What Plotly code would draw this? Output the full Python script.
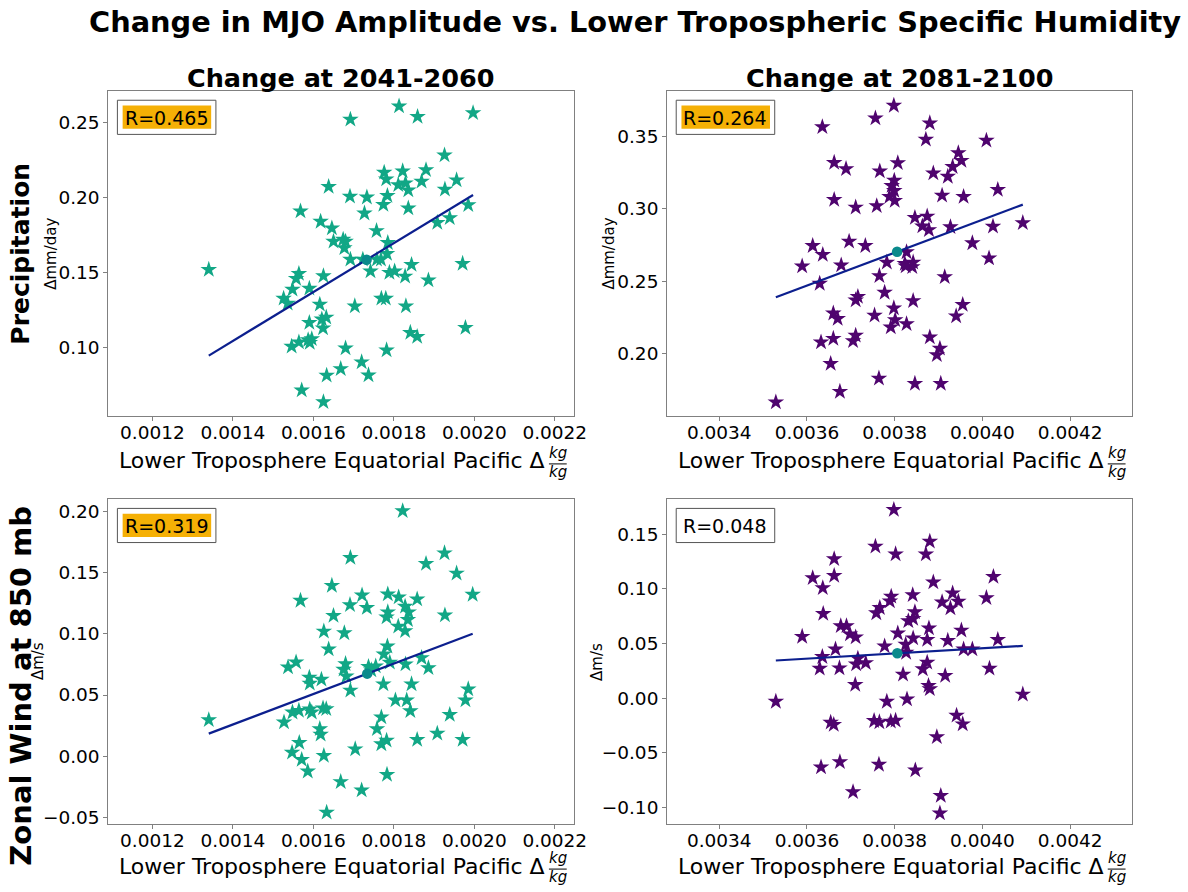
import numpy as np
import plotly.graph_objects as go

W, H = 1188, 892

# ---------------- data ----------------
# Precipitation, change at 2041-2060
x_p1 = [0.00134, 0.001813, 0.001692, 0.001859, 0.001997, 0.001926, 0.00188, 0.001776, 0.001822, 0.001781,
        0.001829, 0.001811, 0.001836, 0.001869, 0.001956, 0.001927, 0.001638, 0.001691, 0.001733, 0.001784,
        0.001774, 0.001836, 0.001985, 0.001568, 0.001727, 0.001908, 0.001939, 0.001618, 0.001646, 0.001757,
        0.00165, 0.001674, 0.00168, 0.001677, 0.001785, 0.001692, 0.001723, 0.001758, 0.001768, 0.001783,
        0.001742, 0.001789, 0.001802, 0.001844, 0.001828, 0.001886, 0.001971, 0.001564, 0.001557, 0.001625,
        0.001548, 0.00159, 0.001526, 0.001536, 0.001616, 0.001703, 0.001769, 0.00178, 0.00183, 0.00159,
        0.001621, 0.001632, 0.001624, 0.001546, 0.001564, 0.001587, 0.001596, 0.001591, 0.00168, 0.001841,
        0.001858, 0.001978, 0.001782, 0.00172, 0.001668, 0.001633, 0.001737, 0.001571, 0.001625]
y_p1 = [0.1519, 0.2611, 0.2522, 0.254, 0.2566, 0.2283, 0.2185, 0.2168, 0.2177, 0.2123,
        0.2097, 0.2084, 0.205, 0.2108, 0.2117, 0.2055, 0.2073, 0.2008, 0.2002, 0.2013,
        0.1953, 0.1929, 0.1951, 0.1909, 0.1895, 0.1833, 0.1864, 0.184, 0.1796, 0.1778,
        0.1707, 0.172, 0.1707, 0.1663, 0.1698, 0.1587, 0.1587, 0.1587, 0.1587, 0.1625,
        0.1508, 0.1499, 0.1508, 0.1552, 0.1474, 0.1448, 0.1559, 0.1492, 0.1459, 0.1477,
        0.1386, 0.1393, 0.1326, 0.1293, 0.1286, 0.1275, 0.1326, 0.1326, 0.1275, 0.1164,
        0.1187, 0.12, 0.1127, 0.1005, 0.1034, 0.1049, 0.1056, 0.1031, 0.0994, 0.1098,
        0.1071, 0.1131, 0.0981, 0.0901, 0.0856, 0.0812, 0.0814, 0.0713, 0.0635]

# Precipitation, change at 2081-2100
x_p2 = [0.003798, 0.003756, 0.003635, 0.00388, 0.003871, 0.004009, 0.003945, 0.003952, 0.003662, 0.003807,
        0.003689, 0.003766, 0.003888, 0.003932, 0.003921, 0.003799, 0.003793, 0.003799, 0.003788, 0.0038,
        0.004035, 0.003908, 0.003957, 0.003662, 0.003711, 0.003759, 0.003846, 0.003874, 0.003863, 0.003878,
        0.003927, 0.004024, 0.004092, 0.003613, 0.003696, 0.003733, 0.003636, 0.003977, 0.003589, 0.003678,
        0.003782, 0.003827, 0.003823, 0.003842, 0.00384, 0.003825, 0.004015, 0.003765, 0.003914, 0.003629,
        0.003711, 0.003716, 0.003777, 0.003842, 0.003955, 0.00366, 0.00367, 0.003754, 0.003798, 0.003801,
        0.003791, 0.003827, 0.00394, 0.003632, 0.00366, 0.003705, 0.003711, 0.00388, 0.003903, 0.003896,
        0.003654, 0.003764, 0.003846, 0.003905, 0.003675, 0.003529]
y_p2 = [0.371, 0.3623, 0.3562, 0.3589, 0.3477, 0.347, 0.3384, 0.3331, 0.3317, 0.3315,
        0.3274, 0.3258, 0.3244, 0.3288, 0.3221, 0.3194, 0.3158, 0.3123, 0.3082, 0.3055,
        0.313, 0.3091, 0.3082, 0.3062, 0.3009, 0.3018, 0.2938, 0.2947, 0.2879, 0.2854,
        0.2874, 0.2877, 0.2902, 0.2744, 0.2774, 0.2744, 0.2683, 0.2763, 0.2603, 0.261,
        0.263, 0.2701, 0.2621, 0.263, 0.2598, 0.2603, 0.2658, 0.2537, 0.253, 0.2484,
        0.237, 0.2393, 0.2422, 0.2365, 0.2338, 0.2279, 0.2242, 0.2265, 0.2315, 0.2233,
        0.2183, 0.2206, 0.226, 0.208, 0.2105, 0.2089, 0.2126, 0.2114, 0.2037, 0.1993,
        0.1932, 0.1831, 0.1795, 0.1795, 0.174, 0.1667]

# Zonal wind 850 mb, change at 2041-2060
x_u1 = [0.00134, 0.001822, 0.001926, 0.001692, 0.00188, 0.001956, 0.001646, 0.001721, 0.001785, 0.001996,
        0.001812, 0.001858, 0.001568, 0.001691, 0.001733, 0.001828, 0.001785, 0.001837, 0.001782, 0.00165,
        0.001927, 0.001835, 0.001811, 0.001828, 0.001626, 0.001677, 0.001638, 0.001784, 0.001775, 0.00179,
        0.001869, 0.001886, 0.001829, 0.001537, 0.001557, 0.00168, 0.001675, 0.001682, 0.001737, 0.001755,
        0.001744, 0.00159, 0.001591, 0.00162, 0.001692, 0.001774, 0.001844, 0.001985, 0.001978, 0.001804,
        0.001832, 0.001841, 0.001548, 0.001564, 0.001591, 0.001596, 0.001624, 0.001632, 0.001769, 0.001939,
        0.001527, 0.001616, 0.001618, 0.001758, 0.001908, 0.001858, 0.001971, 0.001769, 0.001782, 0.001565,
        0.001704, 0.001547, 0.001626, 0.001571, 0.001586, 0.001783, 0.001668, 0.00172, 0.001633]
y_u1 = [0.0297, 0.2, 0.1657, 0.1619, 0.157, 0.1492, 0.1392, 0.1313, 0.1322, 0.1319,
        0.1297, 0.1281, 0.127, 0.1235, 0.1211, 0.1222, 0.1176, 0.1176, 0.1135, 0.1146,
        0.1151, 0.1113, 0.1059, 0.1022, 0.1019, 0.1005, 0.0873, 0.0897, 0.0832, 0.0765,
        0.0803, 0.0721, 0.0751, 0.0727, 0.0767, 0.0754, 0.0708, 0.0654, 0.073, 0.0735,
        0.0703, 0.0643, 0.0594, 0.0627, 0.0538, 0.0589, 0.0589, 0.0548, 0.0457, 0.0457,
        0.0457, 0.037, 0.0359, 0.0373, 0.0384, 0.0359, 0.0392, 0.0386, 0.0319, 0.034,
        0.0278, 0.0224, 0.0178, 0.0224, 0.0186, 0.0135, 0.0135, 0.01, 0.013, 0.0111,
        0.0059, 0.0032, 0.0005, -0.0027, -0.0122, -0.0149, -0.0208, -0.0276, -0.0457]

# Zonal wind 850 mb, change at 2081-2100
x_u2 = [0.003798, 0.00388, 0.003756, 0.003802, 0.003871, 0.003662, 0.003662, 0.004025, 0.003613, 0.003636,
        0.003888, 0.003932, 0.003841, 0.003792, 0.003789, 0.004009, 0.003908, 0.003945, 0.003927, 0.003766,
        0.003758, 0.003637, 0.003846, 0.003831, 0.003842, 0.003677, 0.00369, 0.003698, 0.003711, 0.003589,
        0.003807, 0.003878, 0.003952, 0.003842, 0.003874, 0.003921, 0.004035, 0.003665, 0.003777, 0.003825,
        0.003826, 0.003957, 0.003977, 0.003635, 0.003716, 0.003712, 0.003734, 0.003874, 0.003629, 0.003674,
        0.003864, 0.004016, 0.003819, 0.003915, 0.00371, 0.003877, 0.00388, 0.003529, 0.003782, 0.003828,
        0.004092, 0.003654, 0.003661, 0.003753, 0.003765, 0.003791, 0.003802, 0.003941, 0.003955, 0.003896,
        0.003632, 0.003675, 0.003764, 0.003847, 0.003705, 0.003905, 0.003903]
y_u2 = [0.1724, 0.1433, 0.1388, 0.1318, 0.1318, 0.1273, 0.1121, 0.1112, 0.11, 0.1009,
        0.1061, 0.0961, 0.0945, 0.093, 0.0888, 0.0918, 0.0879, 0.0885, 0.0824, 0.0827,
        0.0779, 0.0773, 0.0788, 0.0706, 0.0727, 0.0661, 0.0661, 0.0585, 0.0558, 0.0564,
        0.0594, 0.064, 0.0621, 0.0549, 0.0536, 0.0527, 0.0536, 0.0449, 0.0476, 0.0491,
        0.0418, 0.0449, 0.0449, 0.0379, 0.0364, 0.0312, 0.0324, 0.0327, 0.0273, 0.0276,
        0.0267, 0.0273, 0.0218, 0.0206, 0.0124, 0.0115, 0.0085, -0.003, -0.003, -0.0009,
        0.0036, -0.0221, -0.0242, -0.0206, -0.0218, -0.0212, -0.0203, -0.0157, -0.0236, -0.0354,
        -0.063, -0.0582, -0.0606, -0.0657, -0.0857, -0.0891, -0.1051]

r_labels = ["R=0.465", "R=0.264", "R=0.319", "R=0.048"]
col_titles = ["Change at 2041-2060", "Change at 2081-2100"]
row_titles = ["Precipitation", "Zonal Wind at 850 mb"]
y_units = ["Δmm/day", "Δmm/day", "Δm/s", "Δm/s"]
x_ticks_a = [0.0012, 0.0014, 0.0016, 0.0018, 0.0020, 0.0022]
x_ticks_b = [0.0034, 0.0036, 0.0038, 0.0040, 0.0042]
y_ticks = [[0.10, 0.15, 0.20, 0.25], [0.20, 0.25, 0.30, 0.35],
           [-0.05, 0.00, 0.05, 0.10, 0.15, 0.20], [-0.10, -0.05, 0.00, 0.05, 0.10, 0.15]]
x_ranges = [[0.001089, 0.002247], [0.00328, 0.004342], [0.001089, 0.002247], [0.00328, 0.004342]]
y_ranges = [[0.054, 0.2715], [0.1571, 0.3813], [-0.0554, 0.21], [-0.1152, 0.1824]]

TEAL = "#12a786"
PURPLE = "#4f046e"
MEAN_C = "#0a8a8c"
LINE_C = "#0c1f8e"
ORANGE = "#f5b005"
FRAME = "#808080"
FONT = "DejaVu Sans"
TICK_SIZE = 18.5


def px(x):
    return x / W


def py(y):
    return 1 - y / H


# panel pixel boxes: left, right, top, bottom
boxes = [(109, 580, 91, 418), (674, 1145, 91, 418), (109, 580, 501, 828), (674, 1145, 501, 828)]
series = [(x_p1, y_p1, TEAL), (x_p2, y_p2, PURPLE), (x_u1, y_u1, TEAL), (x_u2, y_u2, PURPLE)]

fig = go.Figure()
layout = dict(width=W, height=H, margin=dict(l=0, r=0, t=0, b=0),
              plot_bgcolor="white", paper_bgcolor="white", showlegend=False,
              font=dict(family=FONT, color="black"))
annotations = []
shapes = []

for i, ((xs, ys, col), (l, r, t, b)) in enumerate(zip(series, boxes)):
    n = "" if i == 0 else str(i + 1)
    xa, ya = "x" + n, "y" + n
    xs_a = np.array(xs)
    ys_a = np.array(ys)
    fig.add_trace(go.Scatter(x=xs, y=ys, mode="markers", xaxis=xa, yaxis=ya,
                             marker=dict(symbol="star", size=12.5, color=col, line=dict(width=0))))
    slope, icpt = np.polyfit(xs_a, ys_a, 1)
    xl = np.array([xs_a.min(), xs_a.max()])
    fig.add_trace(go.Scatter(x=xl, y=slope * xl + icpt, mode="lines", xaxis=xa, yaxis=ya,
                             line=dict(color=LINE_C, width=2.2)))
    fig.add_trace(go.Scatter(x=[xs_a.mean()], y=[ys_a.mean()], mode="markers", xaxis=xa, yaxis=ya,
                             marker=dict(symbol="circle", size=10.5, color=MEAN_C, line=dict(width=0))))
    xticks = x_ticks_a if i % 2 == 0 else x_ticks_b
    layout["xaxis" + n] = dict(domain=[px(l), px(r)], range=x_ranges[i], anchor=ya,
                               tickvals=xticks, ticktext=[f"{v:.4f}" for v in xticks],
                               showline=True, mirror=True, linecolor=FRAME, linewidth=1,
                               ticks="outside", ticklen=3.5, tickcolor=FRAME, showgrid=False,
                               ticklabelstandoff=-4,
                               zeroline=False, tickfont=dict(size=TICK_SIZE, color="black"))
    layout["yaxis" + n] = dict(domain=[py(b), py(t)], range=y_ranges[i], anchor=xa,
                               tickvals=y_ticks[i], tickformat=".2f",
                               showline=True, mirror=True, linecolor=FRAME, linewidth=1,
                               ticks="outside", ticklen=3.5, tickcolor=FRAME, showgrid=False,
                               zeroline=False, tickfont=dict(size=TICK_SIZE, color="black"))
    # R box
    bl, bt = l + 9.7, t + 9.7
    shapes.append(dict(type="rect", xref="paper", yref="paper",
                       x0=px(bl), x1=px(bl + 99.6), y0=py(bt + 34.3), y1=py(bt),
                       line=dict(color="#555555", width=1), fillcolor="white", layer="above"))
    if i < 3:
        shapes.append(dict(type="rect", xref="paper", yref="paper",
                           x0=px(bl + 5.3), x1=px(bl + 94.8), y0=py(bt + 28.6), y1=py(bt + 5.3),
                           line=dict(width=0), fillcolor=ORANGE, layer="above"))
    annotations.append(dict(text=r_labels[i], xref="paper", yref="paper",
                            x=px(bl + 49.8), y=py(bt + 17.5), xanchor="center", yanchor="middle",
                            showarrow=False, font=dict(size=19, color="black")))
    # y unit label
    ux = 52 if l < 600 else 616
    if i == 2:
        ux = 38
    if i == 3:
        ux = 603
    annotations.append(dict(text=y_units[i], xref="paper", yref="paper", x=px(ux), y=py((t + b) / 2),
                            xanchor="center", yanchor="middle", textangle=-90, showarrow=False,
                            font=dict(size=15, color="black")))
    # x label with stacked kg/kg fraction
    dx = l - 109
    base = b + 49 + (3 if i < 2 else 0)
    annotations.append(dict(text="Lower Troposphere Equatorial Pacific Δ", xref="paper", yref="paper",
                            x=px(553 + dx), y=py(base - 7), xanchor="right", yanchor="middle",
                            showarrow=False, font=dict(size=22, color="black")))
    annotations.append(dict(text="<i>kg</i>", xref="paper", yref="paper",
                            x=px(564 + dx), y=py(base - 15), xanchor="center", yanchor="middle",
                            showarrow=False, font=dict(size=15, color="black")))
    annotations.append(dict(text="<i>kg</i>", xref="paper", yref="paper",
                            x=px(564 + dx), y=py(base + 4), xanchor="center", yanchor="middle",
                            showarrow=False, font=dict(size=15, color="black")))
    shapes.append(dict(type="line", xref="paper", yref="paper",
                       x0=px(555 + dx), x1=px(573 + dx), y0=py(base - 4), y1=py(base - 4),
                       line=dict(color="black", width=1)))

# column titles
for j, ct in enumerate(col_titles):
    l, r, t, b = boxes[j]
    annotations.append(dict(text="<b>" + ct + "</b>", xref="paper", yref="paper",
                            x=px((l + r) / 2), y=py(78), xanchor="center", yanchor="middle",
                            showarrow=False, font=dict(size=25.5, color="black")))
# row titles
annotations.append(dict(text="<b>" + row_titles[0] + "</b>", xref="paper", yref="paper",
                        x=px(21), y=py(255), xanchor="center", yanchor="middle", textangle=-90,
                        showarrow=False, font=dict(size=25, color="black")))
annotations.append(dict(text="<b>" + row_titles[1] + "</b>", xref="paper", yref="paper",
                        x=px(21), y=py(689), xanchor="center", yanchor="middle", textangle=-90,
                        showarrow=False, font=dict(size=29, color="black")))
# main title
annotations.append(dict(text="<b>Change in MJO Amplitude vs. Lower Tropospheric Specific Humidity</b>",
                        xref="paper", yref="paper", x=px(642), y=py(22), xanchor="center",
                        yanchor="middle", showarrow=False, font=dict(size=28.8, color="black")))

layout["annotations"] = annotations
layout["shapes"] = shapes
fig.update_layout(**layout)
fig.write_html("out.html")
